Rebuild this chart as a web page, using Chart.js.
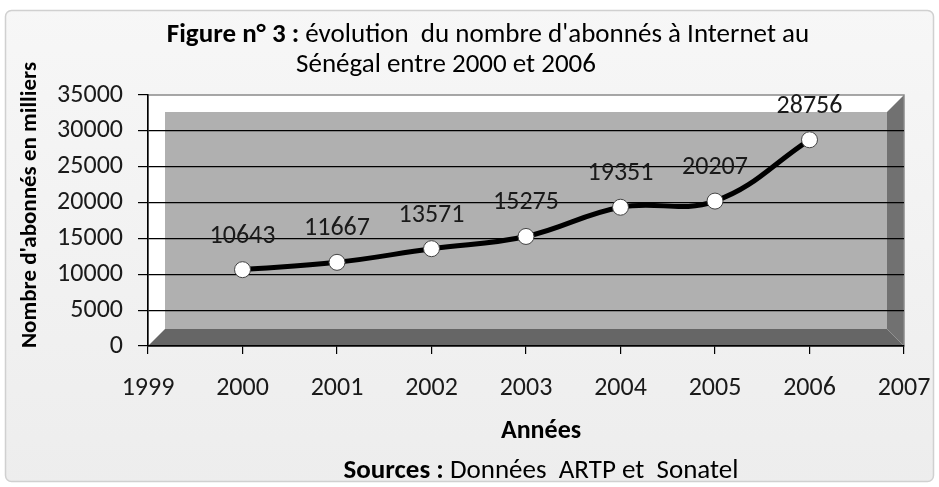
<!DOCTYPE html>
<html><head><meta charset="utf-8">
<script src="https://cdn.jsdelivr.net/npm/chart.js@4/dist/chart.umd.min.js"></script>
<style>html,body{margin:0;padding:0;background:#fff}#wrap{width:939px;height:487px}</style>
</head><body><div id="wrap"><canvas id="c" width="939" height="487"></canvas></div>
<script>
const years = [2000, 2001, 2002, 2003, 2004, 2005, 2006];
const subscribers = [10643, 11667, 13571, 15275, 19351, 20207, 28756];
const yTicks = [0, 5000, 10000, 15000, 20000, 25000, 30000, 35000];
const xTicks = [1999, 2000, 2001, 2002, 2003, 2004, 2005, 2006, 2007];
const titleBold = "Figure n° 3 :";
const titleRest = " évolution  du nombre d'abonnés à Internet au";
const titleLine2 = "Sénégal entre 2000 et 2006";
const yTitle = "Nombre d'abonnés en milliers";
const xTitle = "Années";
const srcBold = "Sources :";
const srcRest = " Données  ARTP et  Sonatel";

const FONT = "Carlito, 'Liberation Sans Narrow', 'DejaVu Sans Condensed', sans-serif";

function mixed(ctx, bold, rest, size, cx, base) {
  ctx.font = "bold " + size + "px " + FONT;
  const wb = ctx.measureText(bold).width;
  ctx.font = size + "px " + FONT;
  const wr = ctx.measureText(rest).width;
  const x0 = cx - (wb + wr) / 2;
  ctx.textAlign = 'left';
  ctx.font = "bold " + size + "px " + FONT; ctx.fillText(bold, x0, base);
  ctx.font = size + "px " + FONT; ctx.fillText(rest, x0 + wb, base);
}

const deco = {
  id: 'deco',
  beforeDraw(chart) {
    const ctx = chart.ctx, a = chart.chartArea;
    ctx.save();
    ctx.fillStyle = '#fff';
    ctx.fillRect(0, 0, chart.width, chart.height);
    const g = ctx.createLinearGradient(0, 0, 0, chart.height);
    g.addColorStop(0, '#f7f7f7'); g.addColorStop(1, '#ededed');
    ctx.fillStyle = g;
    ctx.strokeStyle = '#d0d0d0'; ctx.lineWidth = 1.5;
    ctx.beginPath(); ctx.roundRect(5.5, 10.5, 928, 471, 6); ctx.fill(); ctx.stroke();
    const d = 17, L = a.left, R = a.right, T = a.top, B = a.bottom;
    ctx.fillStyle = '#ffffff';
    ctx.fillRect(L, T, R - L, B - T);
    ctx.fillStyle = '#b0b0b0';
    ctx.fillRect(L + d, T + d, R - L - 2 * d, B - T - 2 * d);
    ctx.fillStyle = '#666666';
    ctx.beginPath(); ctx.moveTo(L, B); ctx.lineTo(R, B); ctx.lineTo(R - d, B - d); ctx.lineTo(L + d, B - d); ctx.closePath(); ctx.fill();
    ctx.fillStyle = '#717171';
    ctx.beginPath(); ctx.moveTo(R, T); ctx.lineTo(R, B); ctx.lineTo(R - d, B - d); ctx.lineTo(R - d, T + d); ctx.closePath(); ctx.fill();
    ctx.strokeStyle = '#8a8a8a'; ctx.lineWidth = 1.5;
    ctx.strokeRect(L, T, R - L, B - T);
    ctx.restore();
  },
  afterDatasetsDraw(chart) {
    const ctx = chart.ctx;
    const meta = chart.getDatasetMeta(0);
    ctx.save();
    ctx.fillStyle = '#1a1a1a';
    ctx.font = "26px " + FONT;
    ctx.textAlign = 'center'; ctx.textBaseline = 'alphabetic';
    meta.data.forEach((p, i) => {
      ctx.fillText(String(subscribers[i]), p.x, p.y - 27);
    });
    ctx.restore();
  },
  afterDraw(chart) {
    const ctx = chart.ctx;
    ctx.save();
    ctx.fillStyle = '#000';
    ctx.textBaseline = 'alphabetic';
    mixed(ctx, titleBold, titleRest, 27, 488, 42);
    ctx.textAlign = 'center';
    ctx.font = "27px " + FONT;
    ctx.fillText(titleLine2, 446, 72);
    ctx.font = "bold 26px " + FONT;
    ctx.fillText(xTitle, 541, 438);
    mixed(ctx, srcBold, srcRest, 27, 541, 478);
    ctx.translate(36, 205);
    ctx.rotate(-Math.PI / 2);
    ctx.textAlign = 'center';
    ctx.font = "bold 23px " + FONT;
    ctx.fillText(yTitle, 0, 0);
    ctx.restore();
  }
};

new Chart(document.getElementById('c'), {
  type: 'line',
  data: {
    datasets: [{
      data: years.map((y, i) => ({ x: y, y: subscribers[i] })),
      borderColor: '#000',
      borderWidth: 5,
      tension: 0.4,
      cubicInterpolationMode: 'default',
      pointRadius: 8,
      pointBackgroundColor: '#fff',
      pointBorderColor: '#444',
      pointBorderWidth: 1,
      fill: false
    }]
  },
  options: {
    responsive: false,
    animation: false,
    events: [],
    layout: { padding: { left: 0, top: 95, right: 35, bottom: 0 } },
    plugins: { legend: { display: false }, title: { display: false }, tooltip: { enabled: false } },
    scales: {
      x: {
        type: 'linear', min: 1999, max: 2007,
        afterBuildTicks(s) { s.ticks = xTicks.map(v => ({ value: v })); },
        afterFit(s) { s.height = 141; s.paddingLeft = 0; s.paddingRight = 0; },
        grid: { drawOnChartArea: false, drawTicks: true, tickLength: 8, color: '#000', lineWidth: 1.2 },
        border: { display: true, color: '#000', width: 1.5 },
        ticks: { color: '#1a1a1a', font: { family: FONT, size: 26 }, padding: 19, maxRotation: 0, autoSkip: false, callback: v => String(v) }
      },
      y: {
        min: 0, max: 35000,
        afterBuildTicks(s) { s.ticks = yTicks.map(v => ({ value: v })); },
        afterFit(s) { s.width = 148; s.paddingTop = 0; s.paddingBottom = 0; },
        grid: { drawTicks: true, tickLength: 10, color: c => (c.tick && c.tick.value === 35000 ? 'rgba(0,0,0,0)' : '#000'), tickColor: '#000', lineWidth: 1.2 },
        border: { display: true, color: '#000', width: 1.5 },
        ticks: { color: '#1a1a1a', font: { family: FONT, size: 26 }, padding: 15, callback: v => String(v) }
      }
    }
  },
  plugins: [deco]
});
</script>
</body></html>
